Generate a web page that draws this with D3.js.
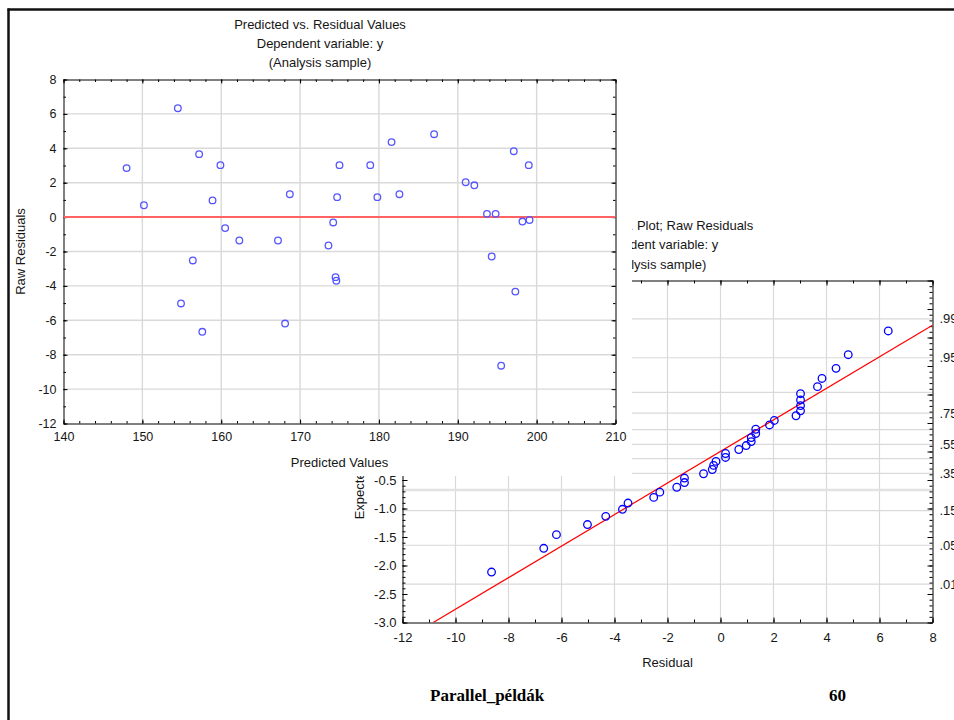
<!DOCTYPE html>
<html><head><meta charset="utf-8">
<script src="https://cdn.jsdelivr.net/npm/d3@7"></script>
<style>
body{margin:0;background:#fff;}
svg{display:block;font-family:"Liberation Sans",Arial,sans-serif;}
</style></head><body>
<svg id="c" width="954" height="720"></svg>
<script>
// ---- Chart 1: Predicted vs. Residual Values ----
const predicted = [148.0,150.2,154.5,154.9,156.4,157.2,157.6,158.9,159.9,160.5,162.3,167.2,168.1,168.7,173.6,174.2,174.5,174.6,174.7,175.0,178.9,179.8,181.6,182.6,187.0,191.0,192.1,193.7,194.3,194.8,195.5,197.1,197.3,198.2,199.0,199.1];
const residuals = [2.85,0.69,6.33,-5.02,-2.52,3.66,-6.67,0.97,3.02,-0.64,-1.36,-1.36,-6.19,1.33,-1.65,-0.31,-3.49,-3.70,1.16,3.02,3.02,1.16,4.36,1.33,4.82,2.03,1.85,0.19,-2.29,0.19,-8.64,3.83,-4.33,-0.26,3.02,-0.17];
const x1Ticks = [140,150,160,170,180,190,200,210];
const y1Ticks = [-12,-10,-8,-6,-4,-2,0,2,4,6,8];
const title1 = ["Predicted vs. Residual Values","Dependent variable: y","(Analysis sample)"];

// ---- Chart 2: Normal Prob. Plot; Raw Residuals ----
const qqResidual = [-8.64,-6.67,-6.19,-5.02,-4.33,-3.70,-3.49,-2.52,-2.29,-1.65,-1.36,-1.36,-0.64,-0.31,-0.26,-0.17,0.19,0.19,0.69,0.97,1.16,1.16,1.33,1.33,1.85,2.03,2.85,3.02,3.02,3.02,3.02,3.66,3.83,4.36,4.82,6.33];
const qqExpected = [-2.115,-1.698,-1.459,-1.282,-1.138,-1.014,-0.904,-0.805,-0.713,-0.627,-0.545,-0.466,-0.390,-0.316,-0.244,-0.174,-0.104,-0.035,0.035,0.104,0.174,0.244,0.316,0.390,0.466,0.545,0.627,0.713,0.805,0.904,1.014,1.138,1.282,1.459,1.698,2.115];
const x2Ticks = [-12,-10,-8,-6,-4,-2,0,2,4,6,8];
const y2Ticks = [-3,-2.5,-2,-1.5,-1,-0.5,0,0.5,1,1.5,2,2.5,3];
const y2VisibleLabels = [-3,-2.5,-2,-1.5,-1,-0.5];   // the rest lie under the front chart
const probLabels = [".01",".05",".15",".35",".55",".75",".95",".99"];
const probZ = [-2.326,-1.645,-1.036,-0.385,0.126,0.674,1.645,2.326];
const gridProbZ = [-2.326,-1.645,-1.036,-0.674,-0.385,-0.126,0.126,0.385,0.674,1.036,1.645,2.326];
const fitLineX = [-10.84, 8];
const fitLineY = [-3, 2.216];
const title2 = ["Normal Prob. Plot; Raw Residuals","Dependent variable: y","(Analysis sample)"];

const footerText = "Parallel_példák";
const pageNumber = "60";

const svg = d3.select("#c");
const TXT = "#161616", GRID = "#d9d9d9";

function styleAxis(g, fs){
  g.selectAll("path.domain").attr("stroke","#000");
  g.selectAll(".tick line").attr("stroke","#000");
  g.selectAll(".tick text").attr("fill",TXT).attr("font-size",fs).attr("font-family","Liberation Sans, Arial, sans-serif");
}

// ================= CHART 2 (behind) =================
{
  const x = d3.scaleLinear().domain([-12,8]).range([402.5,932.5]);
  const y = d3.scaleLinear().domain([-3,3]).range([622.5,280.5]);
  const g = svg.append("g");
  g.selectAll(".vg").data(x2Ticks.slice(1,-1)).join("line")
    .attr("x1",d=>x(d)).attr("x2",d=>x(d)).attr("y1",y(3)).attr("y2",y(-3))
    .attr("stroke",GRID).attr("stroke-width",1.2);
  g.selectAll(".hg").data(gridProbZ).join("line")
    .attr("x1",x(-12)).attr("x2",x(8)).attr("y1",d=>y(d)).attr("y2",d=>y(d))
    .attr("stroke",(d,i)=>i===3?"#e2e2e2":GRID).attr("stroke-width",(d,i)=>i===3?2.5:1.2);
  const fmt = v=>y2VisibleLabels.includes(v)?v.toFixed(1):"";
  const left = g.append("g").attr("transform",`translate(${x(-12)},0)`)
    .call(d3.axisLeft(y).tickValues(y2Ticks).tickFormat(fmt).tickSizeInner(-5).tickSizeOuter(0).tickPadding(6));
  styleAxis(left,"13px");
  g.append("g").attr("transform",`translate(${x(-12)},0)`)
    .call(d3.axisLeft(y).tickValues(d3.range(-30,31).map(v=>v/10)).tickFormat("").tickSizeInner(-3).tickSizeOuter(0))
    .call(a=>{a.select(".domain").remove();a.selectAll("line").attr("stroke","#000");});
  const right = g.append("g").attr("transform",`translate(${x(8)},0)`)
    .call(d3.axisRight(y).tickValues(y2Ticks).tickFormat("").tickSizeInner(-5).tickSizeOuter(0));
  styleAxis(right,"13px");
  g.append("g").attr("transform",`translate(${x(8)},0)`)
    .call(d3.axisRight(y).tickValues(d3.range(-30,31).map(v=>v/10)).tickFormat("").tickSizeInner(-3).tickSizeOuter(0))
    .call(a=>{a.select(".domain").remove();a.selectAll("line").attr("stroke","#000");});
  const bottom = g.append("g").attr("transform",`translate(0,${y(-3)})`)
    .call(d3.axisBottom(x).tickValues(x2Ticks).tickFormat(d=>String(d)).tickSizeInner(-5).tickSizeOuter(0).tickPadding(10));
  styleAxis(bottom,"13px");
  g.append("g").attr("transform",`translate(0,${y(-3)})`)
    .call(d3.axisBottom(x).tickValues(d3.range(-12,9)).tickFormat("").tickSizeInner(-3).tickSizeOuter(0))
    .call(a=>{a.select(".domain").remove();a.selectAll("line").attr("stroke","#000");});
  const top = g.append("g").attr("transform",`translate(0,${y(3)})`)
    .call(d3.axisTop(x).tickValues(x2Ticks).tickFormat("").tickSizeInner(-5).tickSizeOuter(0));
  styleAxis(top,"13px");
  g.append("g").attr("transform",`translate(0,${y(3)})`)
    .call(d3.axisTop(x).tickValues(d3.range(-12,9)).tickFormat("").tickSizeInner(-3).tickSizeOuter(0))
    .call(a=>{a.select(".domain").remove();a.selectAll("line").attr("stroke","#000");});
  g.selectAll(".pl").data(probLabels).join("text")
    .attr("x",x(8)+7).attr("y",(d,i)=>y(probZ[i])).attr("dy","0.35em")
    .attr("font-size","13px").attr("fill",TXT).text(d=>d);
  g.append("clipPath").attr("id","clip2").append("rect")
    .attr("x",x(-12)).attr("y",y(3)).attr("width",x(8)-x(-12)).attr("height",y(-3)-y(3));
  g.append("line").attr("clip-path","url(#clip2)")
    .attr("x1",x(fitLineX[0])).attr("y1",y(fitLineY[0])).attr("x2",x(fitLineX[1])).attr("y2",y(fitLineY[1]))
    .attr("stroke","#ff0000").attr("stroke-width",1.2);
  g.selectAll(".pt").data(qqResidual).join("circle")
    .attr("cx",d=>x(d)).attr("cy",(d,i)=>y(qqExpected[i])).attr("r",3.8)
    .attr("fill","none").attr("stroke","#0000ff").attr("stroke-width",1.3);
  g.selectAll(".t2").data(title2).join("text")
    .attr("x",655).attr("y",(d,i)=>225+i*19.5).attr("dy","0.35em").attr("text-anchor","middle")
    .attr("font-size","13px").attr("fill",TXT).text(d=>d);
  g.append("text").attr("x",(x(-12)+x(8))/2).attr("y",662).attr("dy","0.35em").attr("text-anchor","middle")
    .attr("font-size","13px").attr("fill",TXT).text("Residual");
  g.append("text").attr("transform",`translate(359,${y(0)}) rotate(-90)`).attr("dy","0.35em").attr("text-anchor","middle")
    .attr("font-size","13px").attr("fill",TXT).text("Expected Normal Value");
}

// ================= CHART 1 (front) =================
{
  svg.append("rect").attr("x",10).attr("y",11).attr("width",622).attr("height",465).attr("fill","#fff");
  const x = d3.scaleLinear().domain([140,210]).range([63.5,615.5]);
  const y = d3.scaleLinear().domain([-12,8]).range([423.5,79.5]);
  const g = svg.append("g");
  g.selectAll(".vg").data(x1Ticks.slice(1,-1)).join("line")
    .attr("x1",d=>x(d)).attr("x2",d=>x(d)).attr("y1",y(8)).attr("y2",y(-12))
    .attr("stroke",GRID).attr("stroke-width",1.4);
  g.selectAll(".hg").data(y1Ticks.slice(1,-1)).join("line")
    .attr("x1",x(140)).attr("x2",x(210)).attr("y1",d=>y(d)).attr("y2",d=>y(d))
    .attr("stroke",GRID).attr("stroke-width",1.4);
  const left = g.append("g").attr("transform",`translate(${x(140)},0)`)
    .call(d3.axisLeft(y).tickValues(y1Ticks).tickFormat(d=>String(d)).tickSizeInner(-4).tickSizeOuter(0).tickPadding(7));
  styleAxis(left,"12.5px");
  g.append("g").attr("transform",`translate(${x(140)},0)`)
    .call(d3.axisLeft(y).tickValues(d3.range(-12,9)).tickFormat("").tickSizeInner(-2.5).tickSizeOuter(0))
    .call(a=>{a.select(".domain").remove();a.selectAll("line").attr("stroke","#000");});
  const right = g.append("g").attr("transform",`translate(${x(210)},0)`)
    .call(d3.axisRight(y).tickValues(y1Ticks).tickFormat("").tickSizeInner(-4).tickSizeOuter(0));
  styleAxis(right,"12.5px");
  g.append("g").attr("transform",`translate(${x(210)},0)`)
    .call(d3.axisRight(y).tickValues(d3.range(-12,9)).tickFormat("").tickSizeInner(-2.5).tickSizeOuter(0))
    .call(a=>{a.select(".domain").remove();a.selectAll("line").attr("stroke","#000");});
  const bottom = g.append("g").attr("transform",`translate(0,${y(-12)})`)
    .call(d3.axisBottom(x).tickValues(x1Ticks).tickFormat(d=>String(d)).tickSizeInner(-4).tickSizeOuter(0).tickPadding(9));
  styleAxis(bottom,"12.5px");
  g.append("g").attr("transform",`translate(0,${y(-12)})`)
    .call(d3.axisBottom(x).tickValues(d3.range(140,211,2)).tickFormat("").tickSizeInner(-2.5).tickSizeOuter(0))
    .call(a=>{a.select(".domain").remove();a.selectAll("line").attr("stroke","#000");});
  const top = g.append("g").attr("transform",`translate(0,${y(8)})`)
    .call(d3.axisTop(x).tickValues(x1Ticks).tickFormat("").tickSizeInner(-4).tickSizeOuter(0));
  styleAxis(top,"12.5px");
  g.append("g").attr("transform",`translate(0,${y(8)})`)
    .call(d3.axisTop(x).tickValues(d3.range(140,211,2)).tickFormat("").tickSizeInner(-2.5).tickSizeOuter(0))
    .call(a=>{a.select(".domain").remove();a.selectAll("line").attr("stroke","#000");});
  g.append("line").attr("x1",x(140)).attr("x2",x(210)).attr("y1",y(0)).attr("y2",y(0))
    .attr("stroke","#ff6262").attr("stroke-width",2);
  g.selectAll(".pt").data(predicted).join("circle")
    .attr("cx",d=>x(d)).attr("cy",(d,i)=>y(residuals[i])).attr("r",3.3)
    .attr("fill","none").attr("stroke","#5555ff").attr("stroke-width",1.3);
  g.selectAll(".t1").data(title1).join("text")
    .attr("x",320).attr("y",(d,i)=>24+i*19).attr("dy","0.35em").attr("text-anchor","middle")
    .attr("font-size","13px").attr("fill",TXT).text(d=>d);
  g.append("text").attr("x",(x(140)+x(210))/2).attr("y",462).attr("dy","0.35em").attr("text-anchor","middle")
    .attr("font-size","13px").attr("fill",TXT).text("Predicted Values");
  g.append("text").attr("transform",`translate(20,${y(-2)}) rotate(-90)`).attr("dy","0.35em").attr("text-anchor","middle")
    .attr("font-size","13px").attr("fill",TXT).text("Raw Residuals");
}

// ================= Slide frame & footer =================
svg.append("line").attr("x1",7.5).attr("x2",954).attr("y1",9.5).attr("y2",9.5).attr("stroke","#111").attr("stroke-width",2.5);
svg.append("line").attr("x1",8.5).attr("x2",8.5).attr("y1",8.5).attr("y2",720).attr("stroke","#111").attr("stroke-width",2.5);
svg.append("text").attr("x",430).attr("y",701).attr("font-family","Liberation Serif, 'Times New Roman', serif")
  .attr("font-weight","bold").attr("font-size","17px").attr("fill","#000").text(footerText);
svg.append("text").attr("x",829).attr("y",701).attr("font-family","Liberation Serif, 'Times New Roman', serif")
  .attr("font-weight","bold").attr("font-size","17px").attr("fill","#000").text(pageNumber);
</script>
</body></html>
